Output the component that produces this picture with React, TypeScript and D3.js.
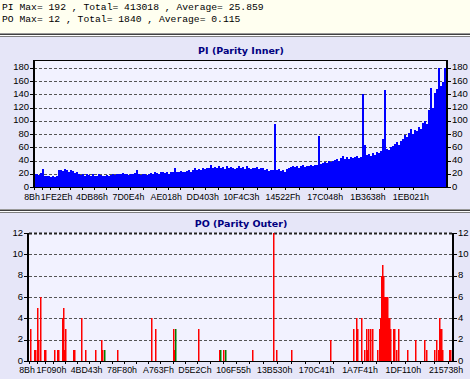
import React from 'react';
import * as d3 from 'd3';

const W = 470;
const H = 379;

const headerLines = [
  'PI Max= 192 , Total= 413018 , Average= 25.859',
  'PO Max= 12 , Total= 1840 , Average= 0.115',
];

const piTitle = 'PI (Parity Inner)';
const poTitle = 'PO (Parity Outer)';

const lbaMax = 0x215738;

// PI samples (evenly spaced along the scan)
const piValues = [
  20, 19, 18, 21, 27, 17, 16, 17, 15, 16,
  15, 17, 25, 26, 24, 27, 25, 23, 26, 24,
  21, 22, 19, 18, 20, 17, 19, 18, 17, 19,
  16, 17, 20, 18, 17, 16, 18, 17, 18, 19,
  18, 20, 19, 19, 21, 20, 19, 18, 20, 19,
  21, 26, 19, 18, 20, 19, 18, 20, 21, 19,
  22, 21, 20, 22, 23, 21, 22, 20, 23, 22,
  28, 22, 23, 24, 22, 23, 24, 26, 23, 25,
  28, 26, 27, 25, 28, 27, 29, 28, 33, 29,
  30, 28, 31, 29, 30, 27, 31, 29, 30, 28,
  27, 29, 31, 28, 30, 27, 32, 28, 27, 29,
  28, 30, 27, 29, 28, 26, 27, 24, 25, 26,
  95, 25, 27, 24, 26, 22, 27, 28, 30, 31,
  30, 32, 29, 31, 33, 30, 32, 31, 33, 32,
  34, 33, 77, 35, 36, 38, 37, 39, 38, 40,
  41, 43, 40, 44, 47, 42, 45, 43, 46, 44,
  45, 47, 44, 46, 141, 63, 48, 50, 47, 52,
  49, 53, 51, 55, 73, 146, 58, 56, 60, 62,
  65, 68, 64, 70, 72, 78, 75, 82, 88, 80,
  86, 84, 90, 87, 97, 100, 96, 117, 150, 120,
  142, 148, 180, 152, 158, 180, 192,
];
const piYTicks = [0, 20, 40, 60, 80, 100, 120, 140, 160, 180];
const piYMax = 192;
const piXLabels = ['8Bh', '1FE2Eh', '4DB86h', '7D0E4h', 'AE018h', 'DD403h', '10F4C3h', '14522Fh', '17C048h', '1B3638h', '1EB021h'];
const piXLabelLba = [0x8b, 0x1fe2e, 0x4db86, 0x7d0e4, 0xae018, 0xdd403, 0x10f4c3, 0x14522f, 0x17c048, 0x1b3638, 0x1eb021];

// PO: position along the scan (0..423) and value
const poSlots = 423;
const poPos = [1, 5, 6, 8, 9, 11, 15, 16, 25, 28, 29, 33, 34, 35, 36, 44, 45, 52, 56, 66, 72, 73, 88, 122, 126, 144, 145, 169, 190, 194, 223, 244, 247, 262, 301, 324, 327, 328, 332, 335, 337, 338, 339, 341, 343, 348, 350, 351, 352, 353, 354, 355, 356, 357, 358, 359, 360, 361, 364, 365, 367, 369, 378, 386, 395, 397, 405, 407, 409, 410, 411, 412, 413, 420, 421];
const poValues = [3, 1, 1, 5, 2, 6, 1, 1, 1, 1, 1, 4, 5, 1, 3, 1, 1, 4, 1, 1, 2, 1, 1, 4, 3, 3, 1, 3, 1, 1, 1, 12, 1, 1, 2, 3, 4, 3, 4, 1, 3, 1, 3, 3, 3, 1, 3, 4, 8, 9, 8, 6, 6, 6, 6, 4, 4, 3, 3, 3, 1, 3, 1, 2, 2, 1, 1, 2, 1, 4, 3, 3, 1, 1, 1];
const poGreenPos = [75, 146, 191, 196];
const poGreenValues = [1, 3, 1, 1];
const poYTicks = [0, 2, 4, 6, 8, 10, 12];
const poYMax = 12;
const poXLabels = ['8Bh', '1F090h', '4BD43h', '78F80h', 'A763Fh', 'D5E2Ch', '106F55h', '13B530h', '170C41h', '1A7F41h', '1DF110h', '215738h'];
const poXLabelLba = [0x8b, 0x1f090, 0x4bd43, 0x78f80, 0xa763f, 0xd5e2c, 0x106f55, 0x13b530, 0x170c41, 0x1a7f41, 0x1df110, 0x215738];

const BG = '#E6E6F8';
const PLOT_BG = '#F2F2FF';
const HEADER_BG = '#FFFFF0';
const AXIS_FONT = "'Liberation Sans', Arial, sans-serif";
const TITLE_FONT = "'DejaVu Sans', Verdana, sans-serif";
const MONO_FONT = "'Liberation Mono', 'Courier New', monospace";

function minorTicks(labelsLba: number[]) {
  const out: number[] = [];
  for (let i = 0; i < labelsLba.length - 1; i++) {
    const a = labelsLba[i];
    const b = labelsLba[i + 1];
    out.push(a, a + (b - a) / 3, a + (2 * (b - a)) / 3);
  }
  out.push(labelsLba[labelsLba.length - 1]);
  return out;
}

function PIChart() {
  const L = 34, R = 447, T = 60, B = 187;
  const xi = d3.scaleLinear().domain([0, piValues.length]).range([L, L + piValues.length * 2]);
  const xl = d3.scaleLinear().domain([0, lbaMax]).range([31, 442.6]);
  const y = d3.scaleLinear().domain([0, piYMax]).range([B, T]);
  const ticks = minorTicks(piXLabelLba).map((t) => xl(t) + 3).filter((x) => x <= R);
  return (
    <g>
      <text x={241} y={51} textAnchor="middle" dominantBaseline="middle" fontFamily={TITLE_FONT} fontWeight="bold" fontSize={9.5} fill="#000080">{piTitle}</text>
      <rect x={L} y={T} width={R - L} height={B - T} fill={PLOT_BG} />
      {piYTicks.filter((t) => t > 0).map((t) => (
        <line key={t} x1={L} x2={R} y1={Math.round(y(t)) + 0.5} y2={Math.round(y(t)) + 0.5} stroke="#555" strokeDasharray="3,2" />
      ))}
      <clipPath id="piclip"><rect x={L} y={T} width={R - L} height={B - T} /></clipPath>
      <g clipPath="url(#piclip)" shapeRendering="crispEdges">
        {piValues.map((v, i) => (
          <rect key={i} x={xi(i)} y={y(v)} width={xi(i + 1) - xi(i)} height={B - y(v)} fill="#0000FF" />
        ))}
      </g>
      <rect x={L + 0.5} y={T + 0.5} width={R - L - 1} height={B - T} fill="none" stroke="#000" />
      <line x1={L - 0.5} x2={L - 0.5} y1={T} y2={B + 1} stroke="#000" />
      <line x1={R + 0.5} x2={R + 0.5} y1={T} y2={B + 1} stroke="#000" />
      {piYTicks.map((t) => (
        <g key={t}>
          <line x1={L - 4} x2={L - 1} y1={Math.round(y(t)) + 0.5} y2={Math.round(y(t)) + 0.5} stroke="#000" />
          <line x1={R} x2={R + 4} y1={Math.round(y(t)) + 0.5} y2={Math.round(y(t)) + 0.5} stroke="#000" />
          <text x={L - 5} y={y(t)} textAnchor="end" dominantBaseline="middle" fontFamily={AXIS_FONT} fontSize={9.5} fill="#000">{t}</text>
          <text x={R + 5} y={y(t)} textAnchor="start" dominantBaseline="middle" fontFamily={AXIS_FONT} fontSize={9.5} fill="#000">{t}</text>
        </g>
      ))}
      {ticks.map((x, i) => (
        <line key={i} x1={Math.round(x) + 0.5} x2={Math.round(x) + 0.5} y1={B} y2={B + 3} stroke="#000" />
      ))}
      {piXLabels.map((lab, i) => (
        <text key={lab} x={xl(piXLabelLba[i]) + 1} y={198} textAnchor="middle" dominantBaseline="middle" fontFamily={AXIS_FONT} fontSize={8.8} fill="#000">{lab}</text>
      ))}
    </g>
  );
}

function POChart() {
  const L = 29, R = 452, T = 233, B = 361;
  const xp = d3.scaleLinear().domain([0, poSlots]).range([L, R]);
  const xl = d3.scaleLinear().domain([0, lbaMax]).range([27, 446]);
  const y = d3.scaleLinear().domain([0, poYMax]).range([B, T]);
  const ticks = minorTicks(poXLabelLba).map((t) => xl(t) + 2).filter((x) => x >= L && x <= R);
  return (
    <g>
      <text x={241} y={224} textAnchor="middle" dominantBaseline="middle" fontFamily={TITLE_FONT} fontWeight="bold" fontSize={9.5} fill="#000080">{poTitle}</text>
      <rect x={L} y={T} width={R - L} height={B - T} fill={PLOT_BG} />
      {poYTicks.filter((t) => t > 0).map((t) => (
        <line key={t} x1={L} x2={R} y1={Math.round(y(t)) + 0.5} y2={Math.round(y(t)) + 0.5} stroke={t === poYMax ? '#222' : '#555'} strokeWidth={t === poYMax ? 2 : 1} strokeDasharray="3,2" />
      ))}
      <g>
        {poPos.map((p, i) => (
          <rect key={i} x={xp(p)} y={Math.round(y(poValues[i]))} width={1.5} height={B - Math.round(y(poValues[i]))} fill="#FF0000" />
        ))}
        {poGreenPos.map((p, i) => (
          <rect key={'g' + i} x={xp(p)} y={Math.round(y(poGreenValues[i]))} width={1.5} height={B - Math.round(y(poGreenValues[i]))} fill="#008000" />
        ))}
      </g>
      <line x1={L - 1} x2={L - 1} y1={T} y2={B + 1} stroke="#000" strokeWidth={2} />
      <line x1={R + 1} x2={R + 1} y1={T} y2={B + 1} stroke="#000" strokeWidth={2} />
      <line x1={L} x2={R} y1={B + 0.5} y2={B + 0.5} stroke="#000" />
      {poYTicks.map((t) => (
        <g key={t}>
          <line x1={L - 5} x2={L - 1} y1={Math.round(y(t)) + 0.5} y2={Math.round(y(t)) + 0.5} stroke="#000" />
          <line x1={R} x2={R + 5} y1={Math.round(y(t)) + 0.5} y2={Math.round(y(t)) + 0.5} stroke="#000" />
          <text x={L - 6} y={y(t)} textAnchor="end" dominantBaseline="middle" fontFamily={AXIS_FONT} fontSize={9.5} fill="#000">{t}</text>
          <text x={R + 6} y={y(t)} textAnchor="start" dominantBaseline="middle" fontFamily={AXIS_FONT} fontSize={9.5} fill="#000">{t}</text>
        </g>
      ))}
      {ticks.map((x, i) => (
        <line key={i} x1={Math.round(x) + 0.5} x2={Math.round(x) + 0.5} y1={B} y2={B + 3} stroke="#000" />
      ))}
      {poXLabels.map((lab, i) => (
        <text key={lab} x={xl(poXLabelLba[i])} y={371} textAnchor="middle" dominantBaseline="middle" fontFamily={AXIS_FONT} fontSize={8.8} fill="#000">{lab}</text>
      ))}
    </g>
  );
}

export default function App() {
  return (
    <div style={{ position: 'fixed', left: 0, top: 0, width: W, height: H }}>
      <svg width={W} height={H} viewBox={`0 0 ${W} ${H}`} style={{ display: 'block' }}>
        <rect x={0} y={0} width={W} height={H} fill={BG} />
        <rect x={0} y={0} width={W} height={33} fill={HEADER_BG} />
        {headerLines.map((s, i) => (
          <text key={i} x={2} y={10 + i * 12} fontFamily={MONO_FONT} fontSize={9.7} fill="#000" xmlSpace="preserve">{s}</text>
        ))}
        <rect x={0} y={33} width={W} height={1} fill="#9a9a9a" />
        <rect x={0} y={34} width={W} height={1} fill="#404040" />
        <rect x={0} y={35} width={W} height={1} fill="#ffffff" />
        <rect x={0} y={36} width={W} height={1} fill="#808080" />
        <PIChart />
        <rect x={0} y={209} width={W} height={1} fill="#9a9a9a" />
        <rect x={0} y={210} width={W} height={1} fill="#404040" />
        <rect x={0} y={211} width={W} height={1} fill="#ffffff" />
        <rect x={0} y={212} width={W} height={1} fill="#808080" />
        <POChart />
      </svg>
    </div>
  );
}
